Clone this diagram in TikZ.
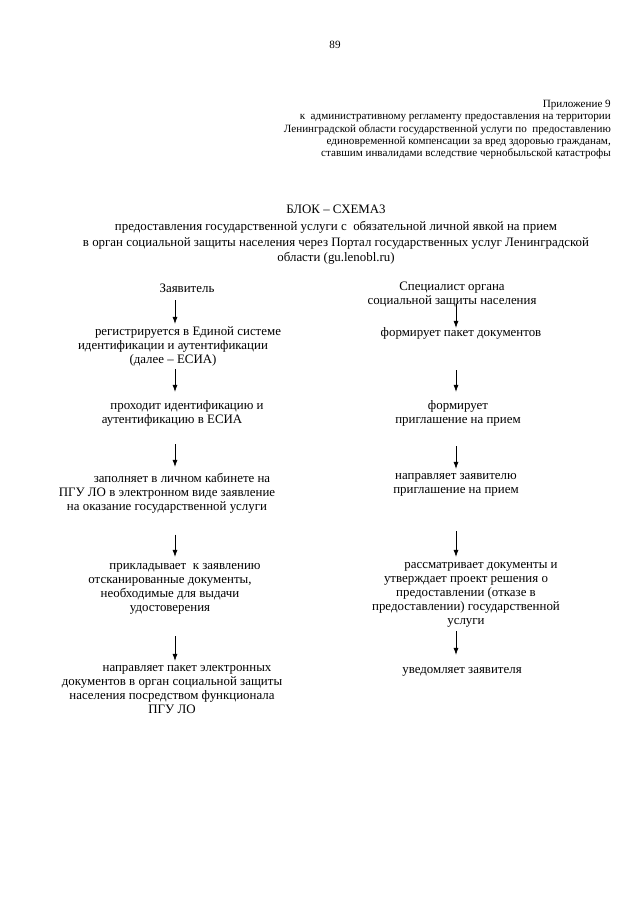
\documentclass[tikz,border=0pt]{standalone}
\usepackage{fontspec}
\setmainfont{Liberation Serif}
\usetikzlibrary{arrows.meta,positioning}

\begin{document}
\begin{tikzpicture}[x=1pt,y=-1pt,
  every node/.style={inner sep=0pt,align=center},
  txt/.style={font=\fontsize{12.9}{14}\selectfont,anchor=north,execute at begin node=\strut,execute at end node=\strut},
  ttlfont/.style={font=\fontsize{12.9}{15.5}\selectfont,anchor=north,execute at begin node=\strut,execute at end node=\strut},
  small/.style={font=\fontsize{11.1}{12.3}\selectfont},
  arrow/.style={-{Latex[length=7pt,width=5pt]},line width=0.6pt}
]
\fill[white] (0,0) rectangle (640,905);
\useasboundingbox (0,0) rectangle (640,905);

% page number and header
\node[small] (num) at (335,45) {89};
\node[small,anchor=north east,align=right,execute at begin node=\strut] (hdr) at (611,100) {Приложение 9\\к\ \ административному регламенту предоставления на территории\\Ленинградской области государственной услуги по\ \ предоставлению\\единовременной компенсации за вред здоровью гражданам,\\ставшим инвалидами вследствие чернобыльской катастрофы};

% title
\node[ttlfont] (ttl) at (336,202.2) {БЛОК – СХЕМА3};
\node[ttlfont,below=3pt of ttl] (sub) {предоставления государственной услуги с\ \ обязательной личной явкой на прием\\в орган социальной защиты населения через Портал государственных услуг Ленинградской\\области (gu.lenobl.ru)};

% left column
\node[txt] (zv) at (187,282) {Заявитель};
\node[txt] (reg) at (173,326.5) {\hspace*{30pt}регистрируется в Единой системе\\идентификации и аутентификации\\(далее – ЕСИА)};
\node[txt] (pro) at (172,400.5) {\hspace*{30pt}проходит идентификацию и\\аутентификацию в ЕСИА};
\node[txt] (zap) at (167,473.5) {\hspace*{30pt}заполняет в личном кабинете на\\ПГУ ЛО в электронном виде заявление\\на оказание государственной услуги};
\node[txt] (pri) at (170,563.5) {\hspace*{30pt}прикладывает\ \ к заявлению\\отсканированные документы,\\необходимые для выдачи\\удостоверения};
\node[txt] (npk) at (172,665.5) {\hspace*{30pt}направляет пакет электронных\\документов в орган социальной защиты\\населения посредством функционала\\ПГУ ЛО};

% right column
\node[txt] (spec) at (452,282) {Специалист органа\\социальной защиты населения};
\node[txt] (fpd) at (461,326.5) {формирует пакет документов};
\node[txt] (fpr) at (458,400.5) {формирует\\приглашение на прием};
\node[txt] (nap) at (456,473.5) {направляет заявителю\\приглашение на прием};
\node[txt] (ras) at (466,562.5) {\hspace*{30pt}рассматривает документы и\\утверждает проект решения о\\предоставлении (отказе в\\предоставлении) государственной\\услуги};
\node[txt] (uved) at (462,663.5) {уведомляет заявителя};

\coordinate (lc) at (175,0);
\coordinate (rc) at (456,0);

\draw[arrow,shorten <=4pt,shorten >=2.7pt] (zv.south -| lc) -- (reg.north -| lc);
\draw[arrow,shorten <=1.3pt,shorten >=8.7pt] (reg.south -| lc) -- (pro.north -| lc);
\draw[arrow,shorten <=16.3pt,shorten >=6.7pt] (pro.south -| lc) -- (zap.north -| lc);
\draw[arrow,shorten <=19.3pt,shorten >=6.7pt] (zap.south -| lc) -- (pri.north -| lc);
\draw[arrow,shorten <=20.3pt,shorten >=4.7pt] (pri.south -| lc) -- (npk.north -| lc);

\draw[arrow,shorten <=-4.7pt,shorten >=-1.3pt] (spec.south -| rc) -- (fpd.north -| rc);
\draw[arrow,shorten <=29.3pt,shorten >=8.7pt] (fpd.south -| rc) -- (fpr.north -| rc);
\draw[arrow,shorten <=18.3pt,shorten >=4.7pt] (fpr.south -| rc) -- (nap.north -| rc);
\draw[arrow,shorten <=33.3pt,shorten >=5.7pt] (nap.south -| rc) -- (ras.north -| rc);
\draw[arrow,shorten <=2.3pt,shorten >=8.7pt] (ras.south -| rc) -- (uved.north -| rc);
\end{tikzpicture}
\end{document}
